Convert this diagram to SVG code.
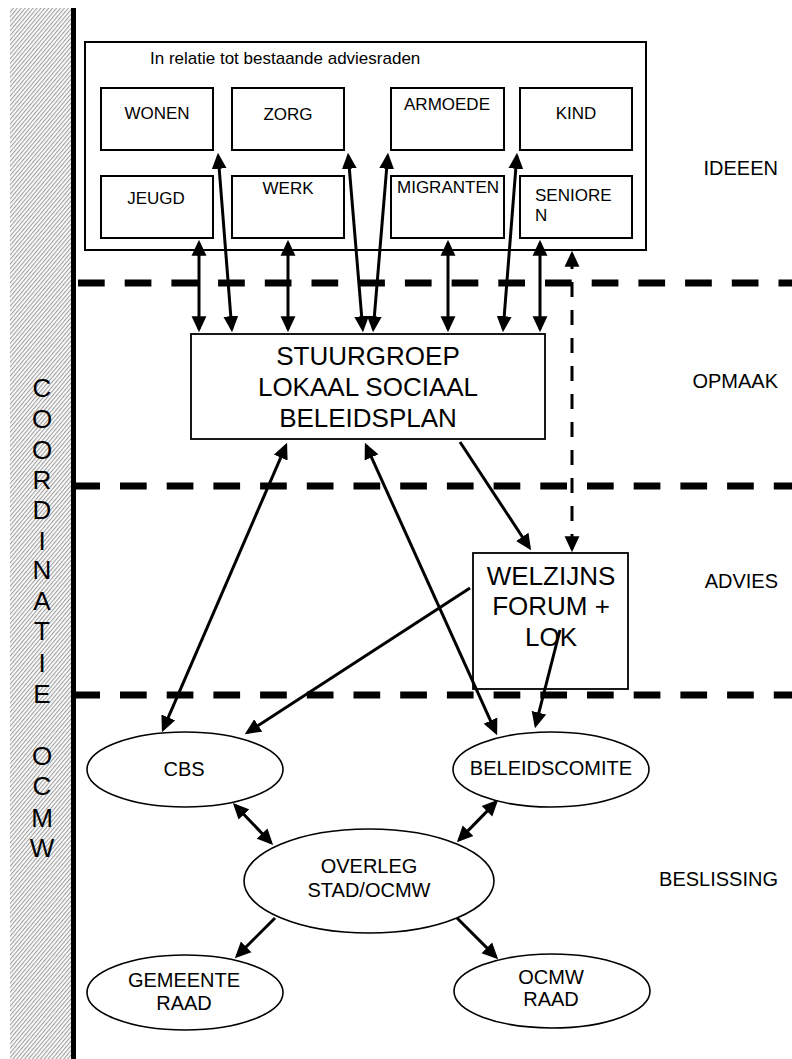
<svg xmlns="http://www.w3.org/2000/svg" width="792" height="1059" viewBox="0 0 792 1059">
<style>
text{font-family:"Liberation Sans",Arial,sans-serif;fill:#000}
.box{fill:#fff;stroke:#000;stroke-width:2}
.big{fill:#fff;stroke:#000;stroke-width:1.8}
.ell{fill:#fff;stroke:#000;stroke-width:1.6}
.t17{font-size:17px}
.t20{font-size:20px}
.t26{font-size:26px}
.mid{text-anchor:middle}
.end{text-anchor:end}
.sep{stroke:#000;stroke-width:7;stroke-dasharray:26.7 20;fill:none}
.arr{stroke:#000;stroke-width:3;fill:none}
.dbl{marker-start:url(#ah);marker-end:url(#ah)}
.one{marker-end:url(#ah)}
.dash{stroke-dasharray:15 13}
</style>
<defs>
<pattern id="hatch" patternUnits="userSpaceOnUse" width="3" height="6" patternTransform="rotate(40)">
<rect width="3" height="6" fill="#fff"/>
<line x1="0.6" y1="0" x2="0.6" y2="6" stroke="#9c9c9c" stroke-width="1.1"/>
</pattern>
<marker id="ah" markerUnits="userSpaceOnUse" markerWidth="16" markerHeight="16" viewBox="0 0 15 14" refX="12" refY="7" orient="auto-start-reverse">
<path d="M0,0 L15,7 L0,14 z" fill="#000"/>
</marker>
</defs>
<rect width="792" height="1059" fill="#fff"/>

<g id="coordinatie-band">
<rect x="10" y="8" width="61" height="1051" fill="url(#hatch)"/>
<line x1="73.5" y1="8" x2="73.5" y2="1059" stroke="#000" stroke-width="5"/>
<g class="t26 mid">
<text x="42" y="397">C</text>
<text x="42" y="428">O</text>
<text x="42" y="459">O</text>
<text x="42" y="489">R</text>
<text x="42" y="519">D</text>
<text x="42" y="550">I</text>
<text x="42" y="579">N</text>
<text x="42" y="610">A</text>
<text x="42" y="640">T</text>
<text x="42" y="672">I</text>
<text x="42" y="703">E</text>
<text x="42" y="765">O</text>
<text x="42" y="795">C</text>
<text x="42" y="827">M</text>
<text x="42" y="857">W</text>
</g>
</g>

<g id="separators">
<line class="sep" x1="78" y1="283" x2="792" y2="283"/>
<line class="sep" x1="73.3" y1="486" x2="792" y2="486"/>
<line class="sep" x1="73.3" y1="695" x2="792" y2="695"/>
</g>

<g id="phase-labels" class="t20 end">
<text x="778" y="175">IDEEEN</text>
<text x="778" y="388">OPMAAK</text>
<text x="778" y="588">ADVIES</text>
<text x="778" y="886">BESLISSING</text>
</g>

<g id="adviesraden">
<rect class="box" x="85" y="42" width="561" height="208"/>
<text class="t17" x="150" y="64">In relatie tot bestaande adviesraden</text>
</g>
<g id="wonen"><rect class="box" x="101" y="88" width="112" height="62"/><text class="t17 mid" x="157" y="119">WONEN</text></g>
<g id="zorg"><rect class="box" x="232" y="88" width="112" height="62"/><text class="t17 mid" x="288" y="120">ZORG</text></g>
<g id="armoede"><rect class="box" x="391" y="88" width="113" height="62"/><text class="t17 mid" x="447" y="110">ARMOEDE</text></g>
<g id="kind"><rect class="box" x="520" y="88" width="112" height="62"/><text class="t17 mid" x="576" y="119">KIND</text></g>
<g id="jeugd"><rect class="box" x="101" y="176" width="112" height="62"/><text class="t17 mid" x="156" y="204">JEUGD</text></g>
<g id="werk"><rect class="box" x="232" y="176" width="112" height="62"/><text class="t17 mid" x="288" y="194">WERK</text></g>
<g id="migranten"><rect class="box" x="391" y="176" width="113" height="62"/><text class="t17 mid" x="448" y="193">MIGRANTEN</text></g>
<g id="senioren"><rect class="box" x="520" y="176" width="112" height="62"/><text class="t17" x="535" y="201">SENIORE</text><text class="t17" x="535" y="221">N</text></g>

<g id="stuurgroep">
<rect class="big" x="191" y="334" width="354" height="105"/>
<text class="t26 mid" x="368" y="365">STUURGROEP</text>
<text class="t26 mid" x="368" y="396">LOKAAL SOCIAAL</text>
<text class="t26 mid" x="368" y="427">BELEIDSPLAN</text>
</g>

<g id="welzijnsforum">
<rect class="big" x="473" y="553" width="155" height="136"/>
<text class="t26 mid" x="551" y="585">WELZIJNS</text>
<text class="t26 mid" x="551" y="615">FORUM +</text>
<text class="t26 mid" x="551" y="646">LOK</text>
</g>

<g id="cbs"><ellipse class="ell" cx="185" cy="769.5" rx="98" ry="37.5"/><text class="t20 mid" x="184" y="776">CBS</text></g>
<g id="beleidscomite"><ellipse class="ell" cx="551" cy="769.5" rx="98" ry="37.5"/><text class="t20 mid" x="551" y="775">BELEIDSCOMITE</text></g>
<g id="overleg"><ellipse class="ell" cx="369" cy="881" rx="125" ry="52"/><text class="t20 mid" x="369" y="873">OVERLEG</text><text class="t20 mid" x="369" y="897">STAD/OCMW</text></g>
<g id="gemeenteraad"><ellipse class="ell" cx="185" cy="992.5" rx="98" ry="37.5"/><text class="t20 mid" x="184" y="987">GEMEENTE</text><text class="t20 mid" x="184" y="1010">RAAD</text></g>
<g id="ocmwraad"><ellipse class="ell" cx="552" cy="991" rx="98" ry="37"/><text class="t20 mid" x="551" y="984">OCMW</text><text class="t20 mid" x="551" y="1006">RAAD</text></g>

<g id="connectors">
<line class="arr dbl" x1="199" y1="243" x2="199" y2="329"/>
<line class="arr dbl" x1="218.2" y1="156" x2="231.8" y2="329"/>
<line class="arr dbl" x1="288" y1="243" x2="288" y2="329"/>
<line class="arr dbl" x1="348.3" y1="156" x2="362.7" y2="329"/>
<line class="arr dbl" x1="387.7" y1="156" x2="373.3" y2="329"/>
<line class="arr dbl" x1="448" y1="243" x2="448" y2="329"/>
<line class="arr dbl" x1="516.8" y1="156" x2="503.2" y2="329"/>
<line class="arr dbl" x1="540" y1="243" x2="540" y2="329"/>
<line class="arr dbl dash" x1="572" y1="254" x2="572" y2="549"/>
<line class="arr dbl" x1="285.8" y1="445.8" x2="163.2" y2="729.2"/>
<line class="arr dbl" x1="366.2" y1="445.7" x2="495.8" y2="732.3"/>
<line class="arr one" x1="460" y1="442" x2="529.3" y2="547.5"/>
<line class="arr one" x1="470" y1="588" x2="247.5" y2="732.4"/>
<line class="arr one" x1="560" y1="630" x2="535.7" y2="725.1"/>
<line class="arr dbl" x1="235.1" y1="805.2" x2="270.9" y2="842.8"/>
<line class="arr dbl" x1="495.9" y1="802.1" x2="459.1" y2="839.9"/>
<line class="arr one" x1="275" y1="918" x2="237.1" y2="955.9"/>
<line class="arr one" x1="457" y1="918" x2="495.9" y2="956.9"/>
</g>
</svg>
